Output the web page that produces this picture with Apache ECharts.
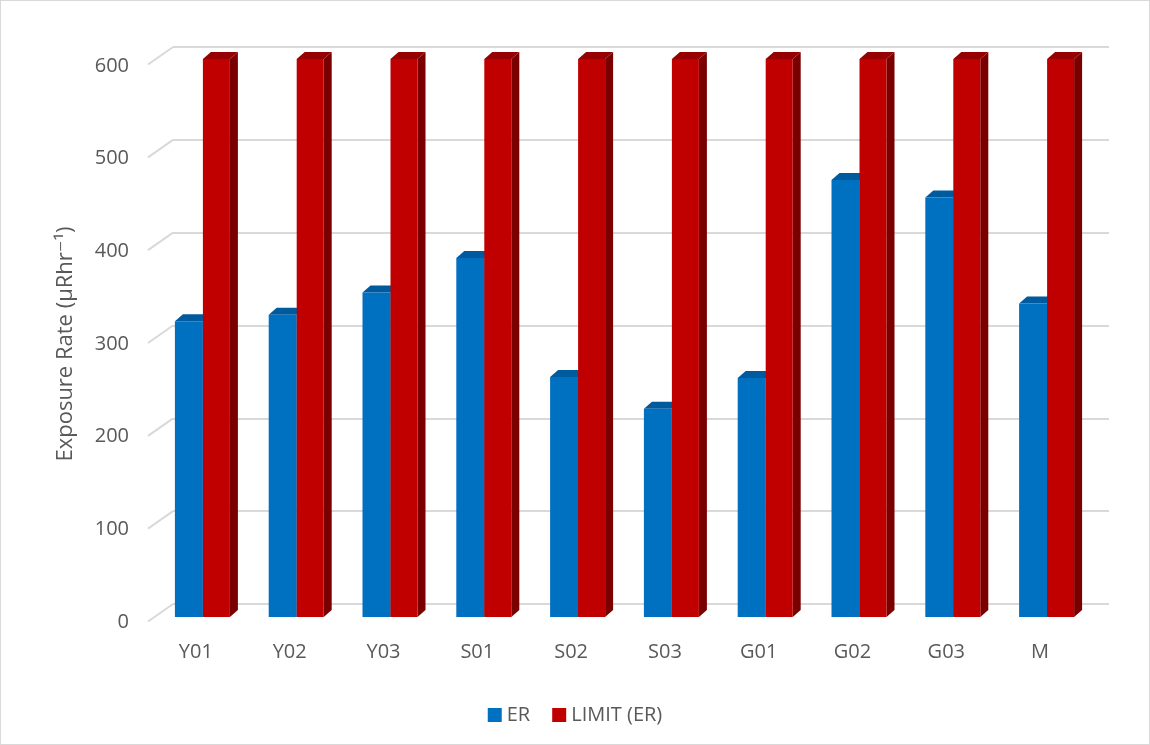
<!DOCTYPE html>
<html>
<head>
<meta charset="utf-8">
<style>
  html, body { margin: 0; padding: 0; background: #fff; }
  #chart { width: 1148px; height: 743px; border: 1px solid #D9D9D9; }
</style>
<script src="https://cdn.jsdelivr.net/npm/echarts@6/dist/echarts.min.js"></script>
</head>
<body>
<div id="chart"></div>
<script>
const categories = ['Y01', 'Y02', 'Y03', 'S01', 'S02', 'S03', 'G01', 'G02', 'G03', 'M'];
const erValues = [318, 325, 349, 386, 258, 224, 257, 470, 451, 337];
const limitValues = [600, 600, 600, 600, 600, 600, 600, 600, 600, 600];
const yTicks = [0, 100, 200, 300, 400, 500, 600];

const textColor = '#595959';
const font = '"Open Sans", "DejaVu Sans", sans-serif';

// bar with a little depth, like excel's 3d columns
function bar3d (side, front, top, dark) {
  return function (params, api) {
    const base = api.coord([api.value(0), 0]);
    const peak = api.coord([api.value(0), api.value(1)]);
    const c = base[0];
    const w = side < 0 ? 28 : 27;
    const x0 = side < 0 ? c - w : c;
    const x1 = x0 + w;
    const yt = peak[1];
    const yb = base[1];
    const dx = 8, dy = -7;
    return {
      type: 'group',
      children: [
        {
          type: 'polygon',
          shape: { points: [[x1, yt], [x1 + dx, yt + dy], [x1 + dx, yb + dy], [x1, yb]] },
          style: { fill: dark }
        },
        {
          type: 'polygon',
          shape: { points: [[x0, yt], [x0 + dx, yt + dy], [x1 + dx, yt + dy], [x1, yt]] },
          style: { fill: top }
        },
        {
          type: 'rect',
          shape: { x: x0, y: yt, width: w, height: yb - yt },
          style: { fill: front }
        }
      ]
    };
  };
}

const chart = echarts.init(document.getElementById('chart'));

const option = {
  animation: false,
  textStyle: { fontFamily: font, color: textColor },
  grid: [
    // back wall (gridlines)
    { left: 172, right: 40, top: 46, bottom: 140 },
    // front edge (labels)
    { left: 148, right: 62, top: 65, bottom: 122 },
    // bars
    { left: 155, right: 55, top: 58, bottom: 127 }
  ],
  xAxis: [
    { gridIndex: 0, type: 'category', data: categories, show: false },
    {
      gridIndex: 1,
      type: 'category',
      data: categories,
      axisLine: { show: false },
      axisTick: { show: false },
      axisLabel: { color: textColor, fontSize: 20, fontFamily: font, margin: 20 }
    },
    { gridIndex: 2, type: 'category', data: categories, show: false }
  ],
  yAxis: [
    {
      gridIndex: 0,
      type: 'value',
      min: 0,
      max: 600,
      interval: 100,
      axisLine: { show: false },
      axisTick: { show: false },
      axisLabel: { show: false },
      splitLine: { lineStyle: { color: '#D9D9D9', width: 2 } }
    },
    {
      gridIndex: 1,
      type: 'value',
      min: 0,
      max: 600,
      interval: 100,
      name: 'Exposure Rate (µRhr⁻¹)',
      nameLocation: 'middle',
      nameGap: 72,
      nameTextStyle: { color: textColor, fontSize: 22, fontFamily: font },
      axisLine: { show: false },
      axisTick: { show: false },
      splitLine: { show: false },
      axisLabel: { color: textColor, fontSize: 20, fontFamily: font, margin: 20 }
    },
    {
      gridIndex: 2,
      type: 'value',
      min: 0,
      max: 600,
      show: false,
      splitLine: { show: false }
    }
  ],
  legend: {
    data: ['ER', 'LIMIT (ER)'],
    top: 699,
    left: 'center',
    icon: 'rect',
    itemWidth: 14,
    itemHeight: 14,
    itemGap: 22,
    textStyle: { color: textColor, fontSize: 20, fontFamily: font }
  },
  series: [
    {
      // slanted floor ticks from the labels back to the wall
      type: 'custom',
      xAxisIndex: 0,
      yAxisIndex: 0,
      silent: true,
      data: yTicks.map(v => [0, v]),
      renderItem: function (params, api) {
        const cs = params.coordSys;
        const y = api.coord([0, api.value(1)])[1];
        return {
          type: 'line',
          shape: { x1: cs.x - 25, y1: y + 17.5, x2: cs.x, y2: y },
          style: { stroke: '#D9D9D9', lineWidth: 2 }
        };
      },
      z: 1
    },
    {
      name: 'ER',
      type: 'custom',
      xAxisIndex: 2,
      yAxisIndex: 2,
      itemStyle: { color: '#0070C0' },
      data: erValues.map((v, i) => [i, v]),
      renderItem: bar3d(-1, '#0070C0', '#005A9E', '#004F8A'),
      z: 3
    },
    {
      name: 'LIMIT (ER)',
      type: 'custom',
      xAxisIndex: 2,
      yAxisIndex: 2,
      itemStyle: { color: '#C00000' },
      data: limitValues.map((v, i) => [i, v]),
      renderItem: bar3d(1, '#C00000', '#960000', '#7A0000'),
      z: 4
    }
  ]
};

chart.setOption(option);
window.addEventListener('resize', () => chart.resize());
</script>
</body>
</html>
